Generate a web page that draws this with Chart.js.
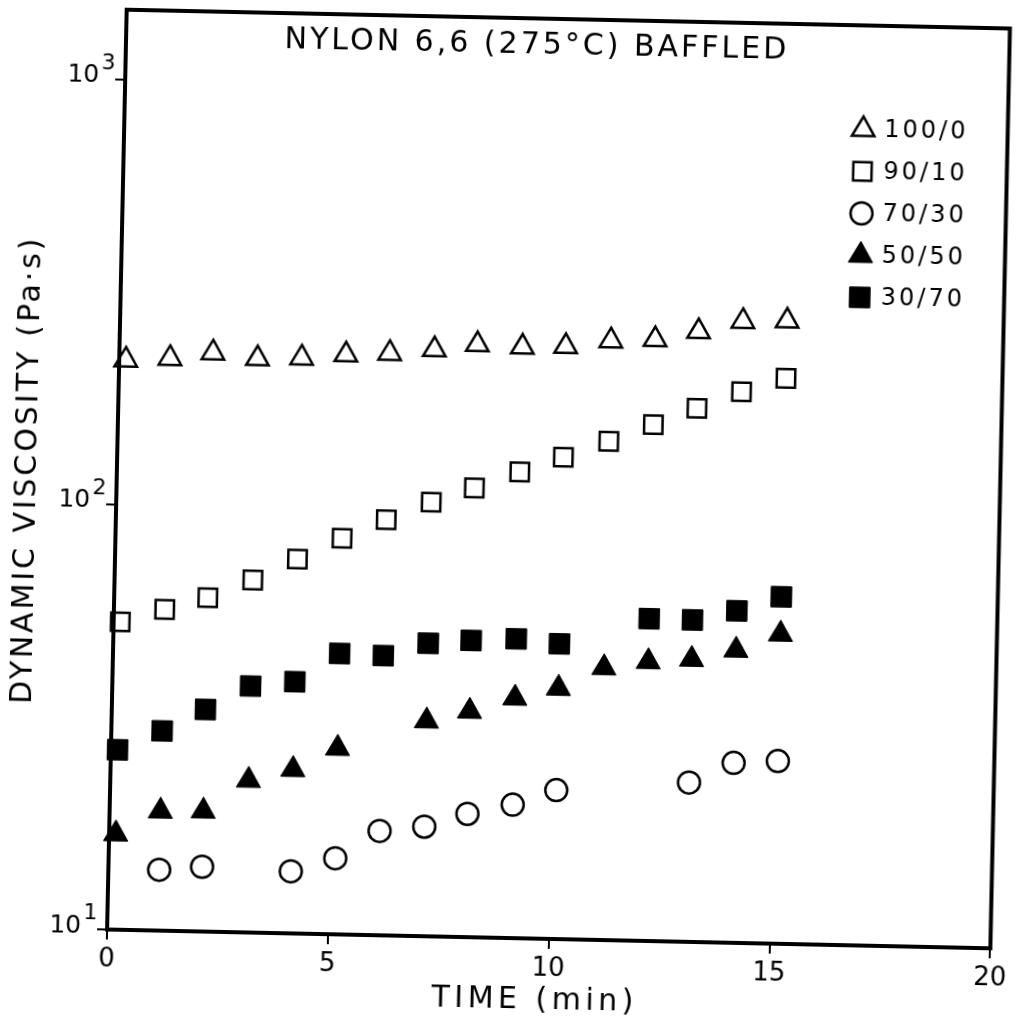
<!DOCTYPE html>
<html lang="en">
<head>
<meta charset="UTF-8">
<title>Nylon 6,6 (275°C) baffled - dynamic viscosity</title>
<script src="https://cdn.jsdelivr.net/npm/chart.js"></script>
<style>
  * { margin: 0; padding: 0; box-sizing: border-box; }
  html, body { width: 1021px; height: 1031px; overflow: hidden; background: #fff; }
  /* the scanned figure sits a little more than a degree clockwise */
  .wrap { position: relative; width: 1021px; height: 1031px; transform: rotate(1.22deg); }
</style>
</head>
<body>
<div class="wrap"><canvas id="viscChart"></canvas></div>
<script>
// Time (min) of each sample
const times = [0.15, 1.15, 2.12, 3.13, 4.13, 5.13, 6.12, 7.13, 8.1, 9.12, 10.1, 11.12, 12.12, 13.1, 14.1, 15.1];

// Dynamic viscosity (Pa·s) per blend, null where no point is plotted
const blend100_0 = [219, 222, 230, 224, 226, 231, 234, 240, 248, 246, 248, 257, 260, 273, 290, 292];
const blend90_10 = [53, 57, 61, 67.5, 76, 85.5, 95, 105, 114, 125, 136, 149, 164, 180, 198, 214];
const blend70_30 = [null, 13.9, 14.2, null, 14.0, 15.1, 17.6, 18.1, 19.5, 20.6, 22.4, null, null, 23.7, 26.5, 26.9];
const blend50_50 = [16.8, 19.1, 19.2, 22.8, 24.3, 27.4, null, 32.1, 34.0, 36.7, 38.9, 43.7, 45.4, 46.2, 48.8, 53.5];
const blend30_70 = [26.5, 29.5, 33.3, 38.0, 39.1, 45.8, 45.5, 48.9, 49.9, 50.6, 49.5, null, 57.3, 57.2, 60.4, 65.5];

const seriesLabels = ['100/0', '90/10', '70/30', '50/50', '30/70'];
const seriesValues = [blend100_0, blend90_10, blend70_30, blend50_50, blend30_70];
const xTicks = [0, 5, 10, 15, 20];
const yTicks = [10, 100, 1000];

// open symbols for the first three blends, filled for the last two
const markers = [
  { style: 'triangle', radius: 13, fill: '#fff', width: 2.5 },
  { style: 'rect', radius: 13, fill: '#fff', width: 2.5 },
  { style: 'circle', radius: 11, fill: '#fff', width: 2.5 },
  { style: 'triangle', radius: 14, fill: '#000', width: 1 },
  { style: 'rect', radius: 14.5, fill: '#000', width: 1 }
];

const FONT = '"DejaVu Sans", "Liberation Sans", sans-serif';

const datasets = seriesValues.map((vals, i) => ({
  label: seriesLabels[i],
  data: times.map((t, j) => ({ x: t, y: vals[j] })).filter(p => p.y !== null),
  pointStyle: markers[i].style,
  pointRadius: markers[i].radius,
  pointBackgroundColor: markers[i].fill,
  pointBorderColor: '#000',
  pointBorderWidth: markers[i].width,
  showLine: false,
  clip: false
}));

function spacedText(ctx, text, x, y, size, spacing) {
  ctx.font = size + 'px ' + FONT;
  ctx.letterSpacing = spacing + 'px';
  ctx.fillText(text, x, y);
  ctx.letterSpacing = '0px';
}

// frame, title, key, log labels and axis titles, drawn like the hand lettering
const framePlugin = {
  id: 'frame',
  afterDraw(chart) {
    const { ctx, chartArea: a } = chart;
    const yScale = chart.scales.y;
    ctx.save();
    ctx.strokeStyle = '#000';
    ctx.lineWidth = 4;
    ctx.strokeRect(a.left, a.top, a.right - a.left, a.bottom - a.top);

    ctx.fillStyle = '#000';
    ctx.textBaseline = 'middle';
    ctx.textAlign = 'center';
    spacedText(ctx, 'NYLON 6,6 (275°C) BAFFLED', a.left + 411, a.top + 27, 30, 3);

    // key
    ctx.textAlign = 'left';
    seriesLabels.forEach((label, i) => {
      const m = markers[i];
      const x = a.left + 739;
      const y = a.top + 104 + i * 42;
      ctx.fillStyle = m.fill;
      ctx.strokeStyle = '#000';
      ctx.lineWidth = m.width;
      Chart.helpers.drawPoint(ctx, { pointStyle: m.style, radius: m.radius, borderWidth: m.width, rotation: 0 }, x, y);
      ctx.fillStyle = '#000';
      spacedText(ctx, label, x + 21, y + 1, 24, 3);
    });

    // decade labels 10^n with a raised exponent
    yTicks.forEach(v => {
      const py = yScale.getPixelForValue(v);
      ctx.textAlign = 'right';
      spacedText(ctx, '10', a.left - 26, py - 3, 25, 0);
      ctx.textAlign = 'left';
      spacedText(ctx, String(Math.round(Math.log10(v))), a.left - 24, py - 16, 22, 0);
    });

    // axis titles
    ctx.textAlign = 'center';
    spacedText(ctx, 'TIME (min)', a.left + 429, 1000, 30, 4.5);
    ctx.translate(27, a.top + 462);
    ctx.rotate(-Math.PI / 2);
    spacedText(ctx, 'DYNAMIC VISCOSITY (Pa·s)', 0, 0, 30, 2.9);
    ctx.restore();
  }
};

new Chart(document.getElementById('viscChart'), {
  type: 'scatter',
  data: { datasets },
  plugins: [framePlugin],
  options: {
    responsive: true,
    maintainAspectRatio: false,
    animation: false,
    layout: { padding: { top: 18, right: 13, left: 0, bottom: 0 } },
    plugins: {
      legend: { display: false },
      tooltip: { enabled: false }
    },
    scales: {
      x: {
        type: 'linear',
        min: 0,
        max: 20,
        afterBuildTicks: s => { s.ticks = xTicks.map(v => ({ value: v })); },
        afterFit: s => { s.height = 93; },
        ticks: { color: '#000', font: { family: FONT, size: 26 }, padding: 5, maxRotation: 0 },
        grid: { drawOnChartArea: false, drawTicks: true, tickLength: 10, color: '#000', lineWidth: 2 },
        border: { display: true, color: '#000', width: 4 }
      },
      y: {
        type: 'logarithmic',
        min: 10,
        max: 1460,
        afterBuildTicks: s => { s.ticks = yTicks.map(v => ({ value: v })); },
        afterFit: s => { s.width = 116; },
        ticks: { display: false },
        grid: { drawOnChartArea: false, drawTicks: true, tickLength: 10, color: '#000', lineWidth: 2 },
        border: { display: true, color: '#000', width: 4 }
      }
    }
  }
});
</script>
</body>
</html>
